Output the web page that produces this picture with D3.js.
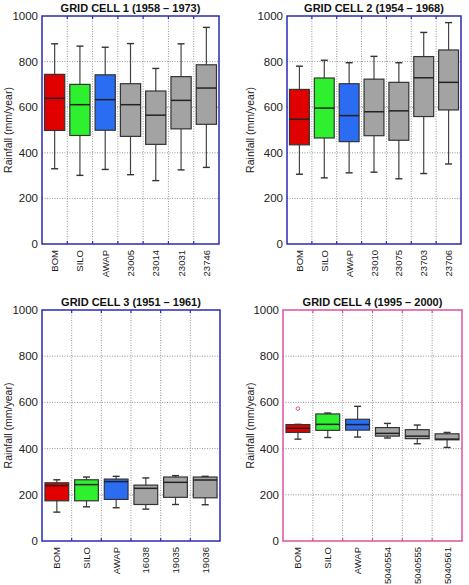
<!DOCTYPE html>
<html>
<head>
<meta charset="utf-8">
<script src="https://cdn.jsdelivr.net/npm/d3@7"></script>
<style>
  body { margin: 0; background: #fff; }
  svg { display: block; }
  text { font-family: "Liberation Sans", Arial, sans-serif; }
</style>
</head>
<body>
<svg id="chart" width="469" height="585"></svg>
<script>
// rainfall box plots, four grid cells

const yTicks = [0, 200, 400, 600, 800, 1000];

// five number summaries: [low whisker, q1, median, q3, high whisker]
const cell1Title = "GRID CELL 1 (1958 – 1973)";
const cell1Cats = ["BOM", "SILO", "AWAP", "23005", "23014", "23031", "23746"];
const cell1Stats = [
  [330, 498, 639, 744, 878],
  [301, 476, 611, 700, 868],
  [327, 499, 633, 742, 863],
  [304, 472, 611, 703, 879],
  [278, 437, 565, 671, 770],
  [325, 505, 630, 734, 878],
  [336, 525, 684, 786, 950],
];

const cell2Title = "GRID CELL 2 (1954 – 1968)";
const cell2Cats = ["BOM", "SILO", "AWAP", "23010", "23075", "23703", "23706"];
const cell2Stats = [
  [306, 435, 547, 678, 780],
  [290, 465, 596, 728, 806],
  [312, 449, 563, 703, 795],
  [315, 475, 580, 723, 823],
  [286, 455, 584, 709, 795],
  [309, 559, 729, 822, 928],
  [351, 588, 709, 851, 971],
];

const cell3Title = "GRID CELL 3 (1951 – 1961)";
const cell3Cats = ["BOM", "SILO", "AWAP", "16038", "19035", "19036"];
const cell3Stats = [
  [125, 174, 240, 252, 265],
  [148, 174, 244, 265, 277],
  [144, 180, 257, 268, 280],
  [138, 158, 228, 242, 273],
  [158, 189, 254, 277, 283],
  [157, 187, 264, 277, 280],
];

const cell4Title = "GRID CELL 4 (1995 – 2000)";
const cell4Cats = ["BOM", "SILO", "AWAP", "5040554", "5040555", "5040561"];
const cell4Stats = [
  [441, 470, 488, 504, 505],
  [448, 479, 505, 550, 554],
  [450, 480, 504, 527, 583],
  [446, 454, 466, 491, 509],
  [421, 443, 454, 482, 502],
  [405, 438, 441, 464, 470],
];
const cell4Outliers = [{ cat: "BOM", value: 573 }];

const boxFills = ["#e00000", "#2ef02e", "#2a6cf2"];
const otherFill = "#a3a3a3";

const panels = [
  { title: cell1Title, cats: cell1Cats, stats: cell1Stats, outliers: [], left: 42, right: 219, top: 16, bottom: 244, yLabOff: 34, frame: "#2a2ab8" },
  { title: cell2Title, cats: cell2Cats, stats: cell2Stats, outliers: [], left: 287, right: 461, top: 16, bottom: 244, yLabOff: 37, frame: "#2a2ab8" },
  { title: cell3Title, cats: cell3Cats, stats: cell3Stats, outliers: [], left: 42, right: 220, top: 310, bottom: 541, yLabOff: 34, frame: "#2a2ab8" },
  { title: cell4Title, cats: cell4Cats, stats: cell4Stats, outliers: cell4Outliers, left: 283, right: 462, top: 310, bottom: 541, yLabOff: 33, frame: "#e0509c" },
];

const svg = d3.select("#chart");

function drawPanel(p) {
  const g = svg.append("g");

  const x = d3.scaleBand()
    .domain(p.cats)
    .range([p.left, p.right])
    .paddingInner(0)
    .paddingOuter(0);

  const y = d3.scaleLinear()
    .domain([0, 1000])
    .range([p.bottom, p.top]);

  const boxW = x.bandwidth() * 0.8;
  const capW = 7;

  // horizontal dotted grid
  g.selectAll(".hgrid")
    .data(yTicks.filter(t => t > 0 && t < 1000))
    .join("line")
    .attr("x1", p.left).attr("x2", p.right)
    .attr("y1", d => y(d)).attr("y2", d => y(d))
    .attr("stroke", "#8a8a8a")
    .attr("stroke-width", 0.9)
    .attr("stroke-dasharray", "1,1.5");

  // vertical dotted grid at category boundaries
  const bounds = p.cats.slice(1).map(c => x(c));
  g.selectAll(".vgrid")
    .data(bounds)
    .join("line")
    .attr("x1", d => d).attr("x2", d => d)
    .attr("y1", p.top).attr("y2", p.bottom)
    .attr("stroke", "#8a8a8a")
    .attr("stroke-width", 0.9)
    .attr("stroke-dasharray", "1,1.5");

  // y tick labels
  g.selectAll(".ytick")
    .data(yTicks)
    .join("text")
    .attr("x", p.left - 4)
    .attr("y", d => y(d) + 4)
    .attr("text-anchor", "end")
    .attr("font-size", 11.5)
    .attr("fill", "#222")
    .text(d => d);

  // y axis title
  g.append("text")
    .attr("transform", `translate(${p.left - p.yLabOff}, ${(p.top + p.bottom) / 2}) rotate(-90)`)
    .attr("text-anchor", "middle")
    .attr("dy", "0.35em")
    .attr("font-size", 10.5)
    .attr("fill", "#222")
    .text("Rainfall (mm/year)");

  // title
  g.append("text")
    .attr("x", (p.left + p.right) / 2)
    .attr("y", p.top - 4.5)
    .attr("text-anchor", "middle")
    .attr("font-size", 11)
    .attr("font-weight", "bold")
    .attr("fill", "#111")
    .text(p.title);

  // x labels rotated
  g.selectAll(".xlab")
    .data(p.cats)
    .join("text")
    .attr("transform", d => `translate(${x(d) + x.bandwidth() / 2 + 3.5}, ${p.bottom + 6}) rotate(-90)`)
    .attr("text-anchor", "end")
    .attr("font-size", 9.5)
    .attr("fill", "#222")
    .text(d => d);

  // boxes
  const items = p.cats.map((c, i) => ({ cat: c, s: p.stats[i], i }));
  const box = g.selectAll(".box")
    .data(items)
    .join("g");

  box.append("line")
    .attr("x1", d => x(d.cat) + x.bandwidth() / 2)
    .attr("x2", d => x(d.cat) + x.bandwidth() / 2)
    .attr("y1", d => y(d.s[0]))
    .attr("y2", d => y(d.s[4]))
    .attr("stroke", "#444")
    .attr("stroke-width", 1.2);

  [0, 4].forEach(k => {
    box.append("line")
      .attr("x1", d => x(d.cat) + x.bandwidth() / 2 - capW / 2)
      .attr("x2", d => x(d.cat) + x.bandwidth() / 2 + capW / 2)
      .attr("y1", d => y(d.s[k]))
      .attr("y2", d => y(d.s[k]))
      .attr("stroke", "#333")
      .attr("stroke-width", 1.4);
  });

  box.append("rect")
    .attr("x", d => x(d.cat) + (x.bandwidth() - boxW) / 2)
    .attr("width", boxW)
    .attr("y", d => y(d.s[3]))
    .attr("height", d => y(d.s[1]) - y(d.s[3]))
    .attr("fill", d => boxFills[d.i] || otherFill)
    .attr("stroke", "#333")
    .attr("stroke-width", 1.2);

  box.append("line")
    .attr("x1", d => x(d.cat) + (x.bandwidth() - boxW) / 2)
    .attr("x2", d => x(d.cat) + (x.bandwidth() + boxW) / 2)
    .attr("y1", d => y(d.s[2]))
    .attr("y2", d => y(d.s[2]))
    .attr("stroke", "#222")
    .attr("stroke-width", 1.5);

  // outliers
  g.selectAll(".outlier")
    .data(p.outliers)
    .join("circle")
    .attr("cx", d => x(d.cat) + x.bandwidth() / 2)
    .attr("cy", d => y(d.value))
    .attr("r", 1.8)
    .attr("fill", "none")
    .attr("stroke", "#e0509c")
    .attr("stroke-width", 1);

  // frame
  g.append("rect")
    .attr("x", p.left).attr("y", p.top)
    .attr("width", p.right - p.left)
    .attr("height", p.bottom - p.top)
    .attr("fill", "none")
    .attr("stroke", p.frame)
    .attr("stroke-width", 1.5);

  // small ticks at category boundaries
  g.selectAll(".btick")
    .data(bounds)
    .join("line")
    .attr("x1", d => d).attr("x2", d => d)
    .attr("y1", p.bottom).attr("y2", p.bottom - 3)
    .attr("stroke", p.frame)
    .attr("stroke-width", 1.2);
  g.selectAll(".ttick")
    .data(bounds)
    .join("line")
    .attr("x1", d => d).attr("x2", d => d)
    .attr("y1", p.top).attr("y2", p.top + 3)
    .attr("stroke", p.frame)
    .attr("stroke-width", 1.2);
}

panels.forEach(drawPanel);
</script>
</body>
</html>
